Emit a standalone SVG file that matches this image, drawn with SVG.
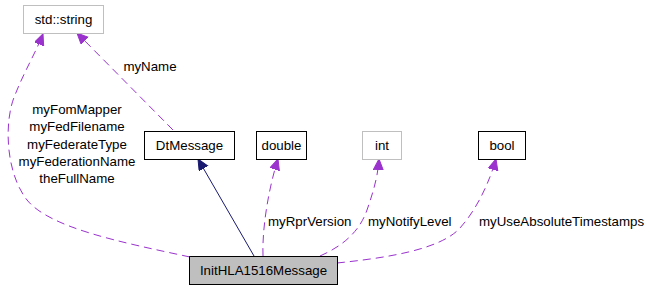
<svg xmlns="http://www.w3.org/2000/svg" width="650" height="291" viewBox="0 0 650 291">
<style>
text{font-family:"Liberation Sans",Arial,sans-serif;font-size:13.3px;fill:#000}
.c{text-anchor:middle}
.box{fill:#fff;stroke:#000;stroke-width:1}
.gbox{fill:#fff;stroke:#bfbfbf;stroke-width:1}
.use{fill:none;stroke:#9a32cd;stroke-width:1;stroke-dasharray:8,5}
.inh{fill:none;stroke:#191970;stroke-width:1}
</style>
<defs>
<marker id="ap" markerUnits="userSpaceOnUse" markerWidth="13" markerHeight="11" refX="11" refY="5" orient="auto"><path d="M0,0 L11,5 L0,10 z" fill="#9a32cd" stroke="#9a32cd"/></marker>
<marker id="an" markerUnits="userSpaceOnUse" markerWidth="13" markerHeight="11" refX="11" refY="5" orient="auto"><path d="M0,0 L11,5 L0,10 z" fill="#191970" stroke="#191970"/></marker>
</defs>
<g id="edges">
<path class="use" d="M190,257 C120,242 50,228 27,200 C5,172 4,120 15,95 C24,72 36,52 43,34" marker-end="url(#ap)"/>
<path class="use" d="M173,130 L77,33" marker-end="url(#ap)"/>
<path class="inh" d="M254,256 L198,159" marker-end="url(#an)"/>
<path class="use" d="M263,256 C262,230 268,190 278,159" marker-end="url(#ap)"/>
<path class="use" d="M320,256 C345,245 360,230 367,210 C374,190 378,175 379,159" marker-end="url(#ap)"/>
<path class="use" d="M337,263 C385,258 440,250 460,228 C478,208 490,180 496,159" marker-end="url(#ap)"/>
<text x="150" y="71" class="c">myName</text>
<text x="77" y="114" class="c">myFomMapper</text>
<text x="77" y="131" class="c">myFedFilename</text>
<text x="77" y="149" class="c">myFederateType</text>
<text x="77" y="166" class="c">myFederationName</text>
<text x="77" y="183" class="c">theFullName</text>
<text x="268" y="226">myRprVersion</text>
<text x="368" y="226">myNotifyLevel</text>
<text x="479" y="226">myUseAbsoluteTimestamps</text>
</g>
<g id="std_string"><rect class="gbox" x="23.5" y="5.5" width="80" height="28"/><text x="63.5" y="24" class="c">std::string</text></g>
<g id="DtMessage"><rect class="box" x="144.5" y="131.5" width="90" height="28"/><text x="189.5" y="150" class="c">DtMessage</text></g>
<g id="double"><rect class="box" x="256.5" y="131.5" width="50" height="28"/><text x="281.5" y="150" class="c">double</text></g>
<g id="int"><rect class="gbox" x="362.5" y="131.5" width="39" height="28"/><text x="382" y="150" class="c">int</text></g>
<g id="bool"><rect class="box" x="478.5" y="131.5" width="47" height="28"/><text x="502" y="150" class="c">bool</text></g>
<g id="InitHLA1516Message"><rect x="189.5" y="256.5" width="148" height="28" fill="#bfbfbf" stroke="#000"/><text x="263.5" y="275" class="c">InitHLA1516Message</text></g>
</svg>
